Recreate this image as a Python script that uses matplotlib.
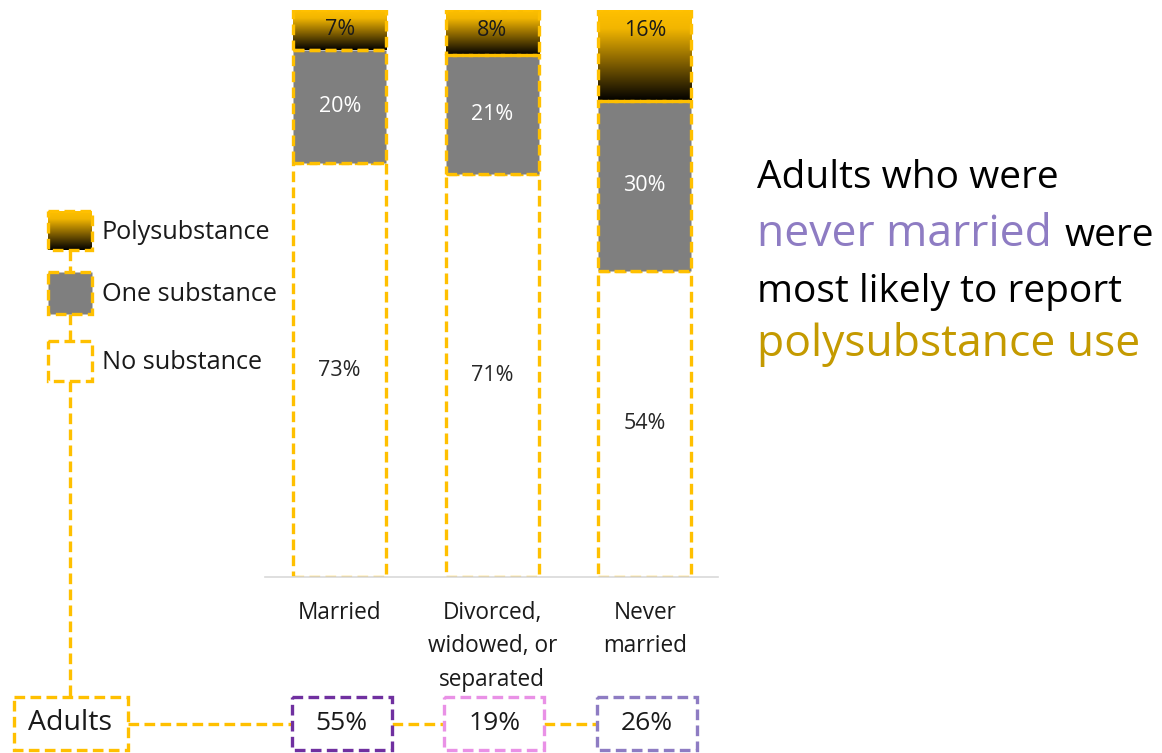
import numpy as np
import matplotlib
matplotlib.use("Agg")
import matplotlib.pyplot as plt
from matplotlib.patches import Rectangle
from matplotlib.colors import LinearSegmentedColormap

plt.rcParams["font.family"] = ["Open Sans", "DejaVu Sans"]

# ---- data ----
categories = ["Married", "Divorced,\nwidowed, or\nseparated", "Never\nmarried"]
no_substance = [73, 71, 54]
one_substance = [20, 21, 30]
polysubstance = [7, 8, 16]
adult_share = [55, 19, 26]
share_colors = ["#7030A0", "#E991E6", "#8E7CC3"]
legend_labels = ["Polysubstance", "One substance", "No substance"]

GOLD = "#FFC000"
GREY = "#7F7F7F"
W, H = 1162, 753

fig = plt.figure(figsize=(W / 100, H / 100), dpi=100)

# overlay axes in pixel coordinates for annotations and connectors
ov = fig.add_axes([0, 0, 1, 1])
ov.set_xlim(0, W)
ov.set_ylim(H, 0)
ov.axis("off")

# bar axes: baseline at y=577 px, 100% at y=10 px
base_px, top_px = 577, 10
left_px, right_px = 265, 718
ax = fig.add_axes([left_px / W, 1 - base_px / H, (right_px - left_px) / W,
                   (base_px - top_px) / H])
ax.patch.set_alpha(0)
for s in ["top", "right", "left"]:
    ax.spines[s].set_visible(False)
ax.spines["bottom"].set_color("#D9D9D9")
ax.spines["bottom"].set_linewidth(1.2)
ax.set_yticks([])
ax.set_xticks([])

x = np.arange(len(categories))
bw = 0.61
dash = (0, (3.2, 1.6))
edge_kw = dict(edgecolor=GOLD, linewidth=2.4, linestyle=dash)

ax.bar(x, no_substance, bw, color="white", **edge_kw, zorder=2)
ax.bar(x, one_substance, bw, bottom=no_substance, color=GREY, **edge_kw, zorder=2)

grad = LinearSegmentedColormap.from_list(
    "poly", [(0, "#000000"), (0.45, "#8a6600"), (0.8, "#F2B600"), (1, GOLD)])
grad_img = np.linspace(0, 1, 256).reshape(-1, 1)
bottoms = np.array(no_substance) + np.array(one_substance)
for xi, b, h in zip(x, bottoms, polysubstance):
    ax.imshow(grad_img, cmap=grad, origin="lower", aspect="auto",
              extent=(xi - bw / 2, xi + bw / 2, b, b + h), zorder=1)
ax.bar(x, polysubstance, bw, bottom=bottoms, color="none", **edge_kw, zorder=3)
ax.set_xlim(-0.49, 2.48)
ax.set_ylim(0, 100)

lab_kw = dict(ha="center", va="center", fontsize=15.5)
for xi, v0, v1, v2 in zip(x, no_substance, one_substance, polysubstance):
    ax.text(xi, v0 / 2, f"{v0}%", color="#262626", **lab_kw)
    ax.text(xi, v0 + v1 / 2, f"{v1}%", color="white", **lab_kw)
    # polysubstance label sits near the top of its segment
    ax.text(xi, v0 + v1 + v2 - min(v2 / 2, 3.6), f"{v2}%", color="#1a1a1a",
            **lab_kw)

fig.canvas.draw()
centers_px = [ax.transData.transform((xi, 0))[0] for xi in x]

# category labels
for cx, lab in zip(centers_px, categories):
    ov.text(cx, 601, lab, ha="center", va="top", fontsize=16.3, color="#1a1a1a",
            linespacing=1.52)

# legend column
leg_boxes = [(211, 250), (272, 314), (341, 381)]
leg_fill = [None, GREY, "white"]
lx0, lx1 = 48, 92
lcx = (lx0 + lx1) / 2
for (y0, y1), fc, lab in zip(leg_boxes, leg_fill, legend_labels):
    if fc is None:
        ov.imshow(grad_img[::-1], cmap=grad, aspect="auto",
                  extent=(lx0, lx1, y1, y0), zorder=1)
        ov.add_patch(Rectangle((lx0, y0), lx1 - lx0, y1 - y0, facecolor="none",
                               **edge_kw, zorder=3))
    else:
        ov.add_patch(Rectangle((lx0, y0), lx1 - lx0, y1 - y0, facecolor=fc,
                               **edge_kw, zorder=3))
    ov.text(102, (y0 + y1) / 2 + 1.5, lab, ha="left", va="center", fontsize=18.2,
            color="#1a1a1a")
ov.set_xlim(0, W)
ov.set_ylim(H, 0)

line_kw = dict(color=GOLD, linewidth=2.4, linestyle=dash, zorder=2)
ov.plot([lcx, lcx], [250, 272], **line_kw)
ov.plot([lcx, lcx], [314, 341], **line_kw)
ov.plot([lcx, lcx], [381, 697], **line_kw)

# bottom row: adults box and share boxes
by0, by1 = 697, 750
bmid = (by0 + by1) / 2
ov.add_patch(Rectangle((14, by0), 114, by1 - by0, facecolor="white", **edge_kw))
ov.text(70, bmid, "Adults", ha="center", va="center", fontsize=20.5,
        color="#1a1a1a")

box_w = 100
prev_right = 128
for cx, v, c in zip(centers_px, adult_share, share_colors):
    bx0 = cx + 2 - box_w / 2
    ov.plot([prev_right, bx0], [bmid, bmid], **line_kw)
    ov.add_patch(Rectangle((bx0, by0), box_w, by1 - by0, facecolor="white",
                           edgecolor=c, linewidth=2.4, linestyle=dash, zorder=3))
    ov.text(bx0 + box_w / 2, bmid, f"{v}%", ha="center", va="center",
            fontsize=19, color="#1a1a1a", zorder=4)
    prev_right = bx0 + box_w

# headline text on the right
fs = 28
fs_hi = 32
ov.text(757, 188, "Adults who were", ha="left", va="baseline", fontsize=fs,
        color="black")
t2 = ov.text(757, 246, "never married", ha="left", va="baseline", fontsize=fs_hi,
             color="#8E7CC3")
fig.canvas.draw()
t2_right = t2.get_window_extent().x1  # display px == overlay x
ov.text(t2_right + 13, 246, "were", ha="left", va="baseline", fontsize=fs,
        color="black")
ov.text(757, 302, "most likely to report", ha="left", va="baseline", fontsize=fs,
        color="black")
ov.text(757, 356, "polysubstance use", ha="left", va="baseline", fontsize=fs_hi,
        color="#C49A00")

fig.savefig("out.png", dpi=100)
